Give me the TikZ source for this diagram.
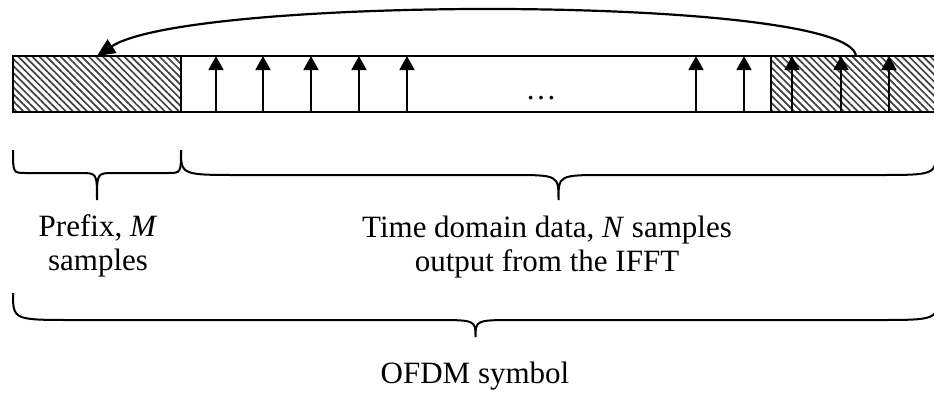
\documentclass[tikz,border=0pt]{standalone}
\usepackage{fontspec}
\setmainfont{Liberation Serif}
\usetikzlibrary{arrows.meta,patterns.meta}

% curly brace opening downwards: x1, x2, top, middle, tip, corner, tip width
\newcommand{\curly}[7]{%
  \draw[brace] (#1,#3) .. controls (#1,#4) .. ({#1+#6},#4)
    -- ({(#1+#2)/2-#7},#4) .. controls ({(#1+#2)/2},#4) .. ({(#1+#2)/2},#5)
    .. controls ({(#1+#2)/2},#4) .. ({(#1+#2)/2+#7},#4)
    -- ({#2-#6},#4) .. controls (#2,#4) .. (#2,#3);}

\begin{document}
\begin{tikzpicture}[
    x=1pt, y=-1pt,
    frame/.style={line width=2.2pt},
    divider/.style={line width=1.5pt},
    hatch/.style={pattern={Lines[angle=-45,distance=5pt,line width=1.7pt]},pattern color=black!75},
    sample/.style={line width=1.8pt,-{Triangle[width=15pt,length=14pt]}},
    wrap/.style={line width=2.2pt,-{Triangle[width=16pt,length=18pt]}},
    brace/.style={line width=2pt},
    lbl/.style={font=\fontsize{31}{34}\selectfont,align=center,anchor=base,inner sep=0pt}
    ]
    \useasboundingbox (0,0) rectangle (934,392);
    % prefix and the tail it is copied from
    \fill[hatch] (13,56) rectangle (181,112);
    \fill[hatch] (771,56) rectangle (940,112);
    \draw[frame] (940,56) -- (13,56) -- (13,112) -- (940,112);
    \draw[divider] (181,56) -- (181,112);
    \draw[divider] (771,56) -- (771,112);
    % samples
    \foreach \x in {216,263,311,359,407,696,744,792,841,889}
      \draw[sample] (\x,112) -- (\x,56);
    \node[lbl] (dots) at (541,99) {…};
    % copy of the tail
    \coordinate (tail) at (856,56);
    \coordinate (prefix) at (97,56);
    \draw[wrap] (tail) .. controls (850,-5) and (190,-5) .. (prefix);
    % braces
    \curly{13}{181}{150}{173}{200}{13}{17}
    \curly{181}{936}{150}{175}{200}{60}{48}
    \curly{13}{938}{293}{320}{337}{62}{42}
    % last line sits on the base anchor
    \node[lbl] (prefixlbl) at (98,270) {Prefix, \textit{M}\\samples};
    \node[lbl] (datalbl) at (547,271) {Time domain data, \textit{N} samples\\output from the IFFT};
    \node[lbl] (symbollbl) at (475,383) {OFDM symbol};
\end{tikzpicture}
\end{document}
